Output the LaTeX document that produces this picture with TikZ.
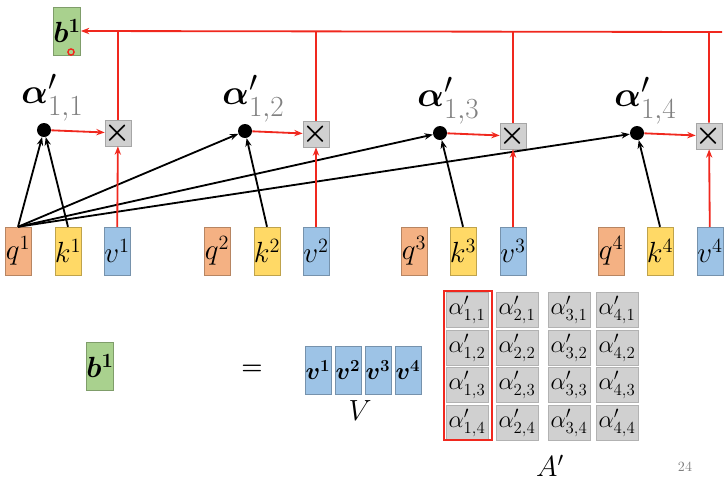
\documentclass[tikz,border=0pt]{standalone}
\usepackage{amsmath}
\usepackage{bm}
\usetikzlibrary{arrows.meta,positioning}
\definecolor{qorange}{RGB}{244,177,131}
\definecolor{kyellow}{RGB}{255,217,102}
\definecolor{vblue}{RGB}{157,195,230}
\definecolor{bgreen}{RGB}{169,209,142}
\definecolor{cellgray}{RGB}{208,208,208}
\definecolor{sumred}{RGB}{240,40,30}

\begin{document}
\begin{tikzpicture}[
    x=0.025cm, y=-0.025cm,
    every node/.style={font=\huge},
    vec/.style={rectangle, draw=#1!75!black, fill=#1, line width=0.3pt,
                minimum width=0.65cm, minimum height=1.2cm, inner sep=0pt},
    dot/.style={circle, fill=black, minimum size=0.35cm, inner sep=0pt},
    mult/.style={rectangle, draw=gray!70, fill=cellgray, minimum size=0.65cm,
                 inner sep=0pt, font=\huge},
    cell/.style={rectangle, draw=gray!60, fill=cellgray, minimum width=1.05cm,
                 minimum height=0.88cm, inner sep=0pt, font=\LARGE},
    alab/.style={inner sep=0pt, font=\Huge},
    arrow/.style={-{Stealth[length=6pt]}, line width=1.3pt, color=black},
    redarrow/.style={-{Stealth[length=6pt]}, line width=1.3pt, color=sumred}
]
\useasboundingbox (0,0) rectangle (728,483);

% output on top
\node[vec=bgreen] (b) at (67,31) {$\bm{b}^{\bm{1}}$};
\draw[sumred, line width=1pt] (71,52) circle (2.2pt);

% q k v row
\node[vec=qorange] (q1) at (18,251)  {$q^1$};
\node[vec=kyellow] (k1) at (68,251)  {$k^1$};
\node[vec=vblue]   (v1) at (117,251) {$v^1$};
\node[vec=qorange] (q2) at (217,251) {$q^2$};
\node[vec=kyellow] (k2) at (267,251) {$k^2$};
\node[vec=vblue]   (v2) at (316,251) {$v^2$};
\node[vec=qorange] (q3) at (414,251) {$q^3$};
\node[vec=kyellow] (k3) at (463,251) {$k^3$};
\node[vec=vblue]   (v3) at (513,251) {$v^3$};
\node[vec=qorange] (q4) at (611,251) {$q^4$};
\node[vec=kyellow] (k4) at (660,251) {$k^4$};
\node[vec=vblue]   (v4) at (710,251) {$v^4$};

% attention scores
\node[dot] (a1) at (44,130)  {};
\node[dot] (a2) at (245,131) {};
\node[dot] (a3) at (440,133) {};
\node[dot] (a4) at (637,133) {};
\node[alab, above=1pt of a1, xshift=6pt] (la1) {$\bm{\alpha}'_{\color{gray}1,1}$};
\node[alab, above=1pt of a2, xshift=6pt] (la2) {$\bm{\alpha}'_{\color{gray}1,2}$};
\node[alab, above=1pt of a3, xshift=6pt] (la3) {$\bm{\alpha}'_{\color{gray}1,3}$};
\node[alab, above=1pt of a4, xshift=6pt] (la4) {$\bm{\alpha}'_{\color{gray}1,4}$};

% weighting
\node[mult] (m1) at (118,133) {$\bm{\times}$};
\node[mult] (m2) at (316,134) {$\bm{\times}$};
\node[mult] (m3) at (513,136) {$\bm{\times}$};
\node[mult] (m4) at (709,136) {$\bm{\times}$};
\coordinate (top) at (722,32);

% Arrows
\draw[arrow] (q1.north) -- (a1);
\draw[arrow] (q1.north) -- (a2);
\draw[arrow] (q1.north) -- (a3);
\draw[arrow] (q1.north) -- (a4);
\draw[arrow] (k1.north) -- (a1);
\draw[arrow] (k2.north) -- (a2);
\draw[arrow] (k3.north) -- (a3);
\draw[arrow] (k4.north) -- (a4);
\draw[redarrow] (a1) -- (m1);
\draw[redarrow] (a2) -- (m2);
\draw[redarrow] (a3) -- (m3);
\draw[redarrow] (a4) -- (m4);
\draw[redarrow] (v1) -- (m1);
\draw[redarrow] (v2) -- (m2);
\draw[redarrow] (v3) -- (m3);
\draw[redarrow] (v4) -- (m4);
\draw[redarrow] (m4.north) |- (top) -- (b.east);
\draw[sumred, line width=1.3pt] (m1.north) -- (m1.north |- top);
\draw[sumred, line width=1.3pt] (m2.north) -- (m2.north |- top);
\draw[sumred, line width=1.3pt] (m3.north) -- (m3.north |- top);

% matrix form
\node[vec=bgreen] (bb) at (100,366) {$\bm{b}^{\bm{1}}$};
\node[font=\LARGE\bfseries] (eq) at (252,370) {=};
\node[vec=vblue, font=\LARGE] (V1) at (318,370) {$\bm{v}^{\bm{1}}$};
\node[vec=vblue, font=\LARGE] (V2) at (348,370) {$\bm{v}^{\bm{2}}$};
\node[vec=vblue, font=\LARGE] (V3) at (378,370) {$\bm{v}^{\bm{3}}$};
\node[vec=vblue, font=\LARGE] (V4) at (408,370) {$\bm{v}^{\bm{4}}$};
\node (Vlab) at (360,411) {$V$};

\foreach \i/\x in {1/467,2/517,3/569,4/617}
  \foreach \j/\y in {1/310,2/348,3/385,4/423}
    \node[cell] (c\i\j) at (\x,\y) {$\alpha'_{\i,\j}$};
\draw[sumred, line width=1.6pt] (444,291) rectangle (492,440);
\node (Alab) at (550,466) {$A'$};
\node[font=\normalsize, text=gray] (page) at (685,467) {24};
\end{tikzpicture}
\end{document}
